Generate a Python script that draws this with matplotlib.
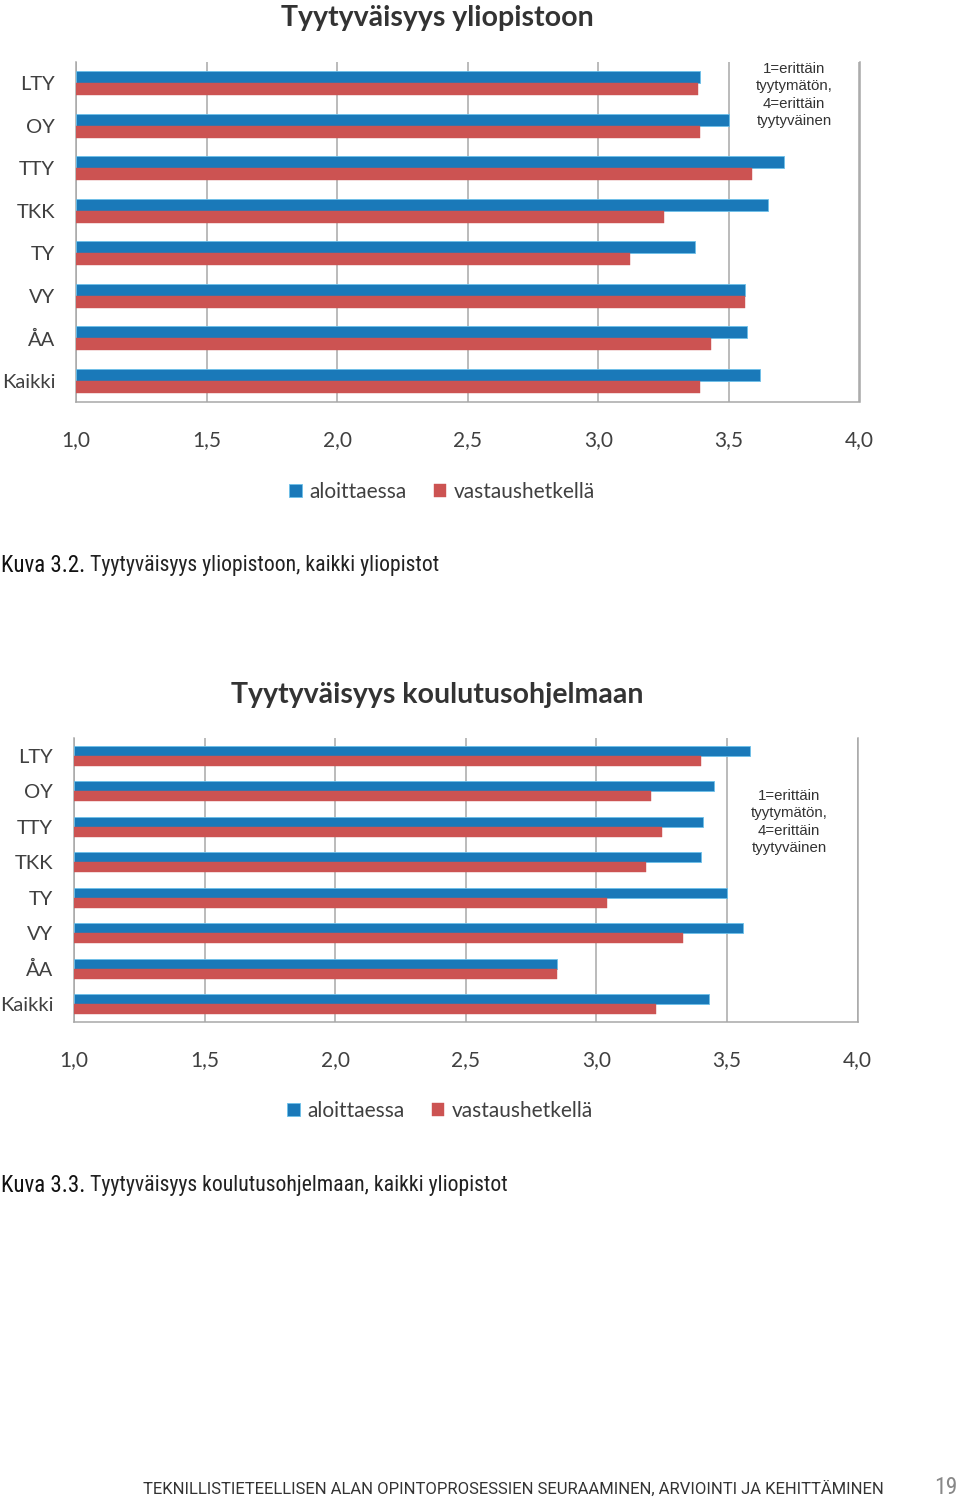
import matplotlib
matplotlib.use("Agg")
import matplotlib.pyplot as plt
from matplotlib import font_manager
import numpy as np

# ---------------- data ----------------
categories = ["LTY", "OY", "TTY", "TKK", "TY", "VY", "ÅA", "Kaikki"]
series_names = ["aloittaessa", "vastaushetkellä"]

uni_start = [3.39, 3.50, 3.71, 3.65, 3.37, 3.56, 3.57, 3.62]
uni_now = [3.38, 3.39, 3.59, 3.25, 3.12, 3.56, 3.43, 3.39]

prog_start = [3.59, 3.45, 3.41, 3.40, 3.50, 3.56, 2.85, 3.43]
prog_now = [3.40, 3.21, 3.25, 3.19, 3.04, 3.33, 2.85, 3.23]

xticks = [1.0, 1.5, 2.0, 2.5, 3.0, 3.5, 4.0]
xtick_labels = ["1,0", "1,5", "2,0", "2,5", "3,0", "3,5", "4,0"]

title1 = "Tyytyväisyys yliopistoon"
title2 = "Tyytyväisyys koulutusohjelmaan"
note = "1=erittäin\ntyytymätön,\n4=erittäin\ntyytyväinen"
cap1_a, cap1_b = "Kuva 3.2.", " Tyytyväisyys yliopistoon, kaikki yliopistot"
cap2_a, cap2_b = "Kuva 3.3.", " Tyytyväisyys koulutusohjelmaan, kaikki yliopistot"
footer = "TEKNILLISTIETEELLISEN ALAN OPINTOPROSESSIEN SEURAAMINEN, ARVIOINTI JA KEHITTÄMINEN"
page = "19"

# ---------------- styling ----------------
BLUE = "#1a79b9"
RED = "#cc5352"
GRID = "#a8a8a8"
TXT = "#404040"

avail = {f.name for f in font_manager.fontManager.ttflist}
CHART_FONT = "Lato" if "Lato" in avail else "DejaVu Sans"
NOTE_FONT = "Liberation Sans" if "Liberation Sans" in avail else "DejaVu Sans"
COND_FONT = None
for cand in ["Liberation Sans Narrow", "Roboto Condensed", "Open Sans Condensed", "DejaVu Sans Condensed"]:
    if cand in avail:
        COND_FONT = cand
        break
if COND_FONT is None:
    COND_FONT = "Roboto"
FOOT_FONT = "Roboto" if "Roboto" in avail else "DejaVu Sans"

W, H = 960, 1501
fig = plt.figure(figsize=(W / 100, H / 100), dpi=100)
fig.patch.set_facecolor("white")


def fx(px):
    return px / W


def fy(py):
    return 1 - py / H


def chart(left, top, right, bottom, start, now, title, title_y, note_x, note_y, legend_y, legend_x):
    ax = fig.add_axes([fx(left), fy(bottom), fx(right - left), (bottom - top) / H])
    y = np.arange(len(categories))
    h = 0.28
    b1 = ax.barh(y - h / 2, np.array(start) - 1.0, left=1.0, height=h, color=BLUE,
                 edgecolor="#6cc0ea", linewidth=0.6, label=series_names[0], zorder=3)
    b2 = ax.barh(y + h / 2, np.array(now) - 1.0, left=1.0, height=h, color=RED,
                 edgecolor=RED, linewidth=0.3, label=series_names[1], zorder=3)
    ax.set_xlim(1.0, 4.0)
    ax.set_ylim(len(categories) - 0.5, -0.5)
    ax.set_xticks(xticks)
    ax.set_xticklabels(xtick_labels, fontfamily=CHART_FONT, fontsize=15, color=TXT)
    ax.set_yticks(y)
    ax.set_yticklabels(categories, fontfamily=CHART_FONT, fontsize=14.5, color=TXT)
    ax.tick_params(axis="x", length=0, pad=20)
    ax.tick_params(axis="y", length=0, pad=15)
    ax.xaxis.grid(True, color=GRID, linewidth=1.1, zorder=0)
    ax.set_axisbelow(True)
    ax.spines["top"].set_visible(False)
    for s in ["left", "bottom", "right"]:
        ax.spines[s].set_color(GRID)
        ax.spines[s].set_linewidth(1.1)
    ax.set_facecolor("white")

    fig.text(fx(437), fy(title_y), title, ha="center", va="center",
             fontfamily=CHART_FONT, fontweight="bold", fontsize=20.5, color="#333333")
    fig.text(fx(note_x), fy(note_y), note, ha="center", va="top",
             fontfamily=NOTE_FONT, fontsize=10.8, color="#333333", linespacing=1.3)
    fig.legend(handles=[b1, b2], labels=series_names, loc="center",
               bbox_to_anchor=(fx(legend_x), fy(legend_y)), ncol=2, frameon=False,
               prop={"family": CHART_FONT, "size": 15}, handlelength=0.6,
               handleheight=0.6, handletextpad=0.35, columnspacing=1.3,
               labelcolor=TXT)
    return ax


chart(76, 62, 859.5, 402, uni_start, uni_now, title1, 18, 794, 62, 492, 442)
chart(74, 738, 857.5, 1022, prog_start, prog_now, title2, 695, 789, 789, 1111, 440)


def caption(y, a, b):
    t1 = fig.text(fx(1), fy(y), a, ha="left", va="center", fontfamily=COND_FONT,
                  fontsize=16.5, color="#111111")
    fig.canvas.draw()
    bb = t1.get_window_extent()
    fig.text(bb.x1 / W, fy(y), b, ha="left", va="center", fontfamily=COND_FONT,
             fontsize=15.7, color="#222222")


caption(565, cap1_a, cap1_b)
caption(1186, cap2_a, cap2_b)

fig.text(fx(884), fy(1489), footer, ha="right", va="center", fontfamily=FOOT_FONT,
         fontsize=12, color="#333333")
fig.text(fx(958), fy(1487), page, ha="right", va="center", fontfamily=COND_FONT,
         fontsize=17, color="#888888")

fig.savefig("out.png", dpi=100, facecolor="white")
